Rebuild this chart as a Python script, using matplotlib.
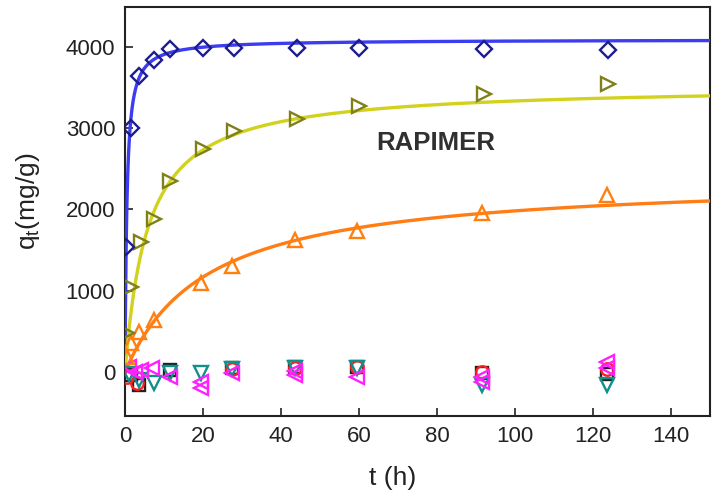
import numpy as np
import matplotlib.pyplot as plt

plt.rcParams['font.family'] = ['Liberation Sans', 'DejaVu Sans']

# measured points (t in h, q in mg/g)
t_blue = [0.3, 1.5, 3.5, 7.5, 11.5, 20, 28, 44, 60, 92, 124]
q_blue = [1540, 3000, 3640, 3840, 3975, 3985, 3985, 3980, 3980, 3975, 3965]

t_yel = [0.5, 1.5, 4, 7.5, 11.5, 20, 28, 44, 60, 92, 124]
q_yel = [480, 1050, 1600, 1880, 2350, 2745, 2965, 3115, 3275, 3420, 3545]

t_org = [0.5, 1.5, 3.5, 7.5, 19.5, 27.5, 43.5, 59.5, 91.5, 123.5]
q_org = [180, 360, 490, 640, 1100, 1300, 1620, 1730, 1960, 2180]

t_blk = [1.5, 3.5, 11.5, 27.5, 43.5, 59.5, 91.5, 123.5]
q_blk = [-40, -160, 25, 50, 60, 60, -10, -20]

t_red = [0.5, 3.0, 27.5, 43.5, 59.5, 91.5, 123.5]
q_red = [-60, -135, 40, 50, 60, 0, 40]

t_teal = [1.0, 3.5, 7.5, 11.5, 19.5, 27.5, 43.5, 59.5, 91.5, 123.5]
q_teal = [-20, -100, -135, -15, -15, 35, 45, 45, -160, -160]

t_mag1 = [2.5, 7, 11.5, 19.5, 27.5, 43.5, 59.5, 91.5, 123.5]
q_mag1 = [0, 50, -60, -120, -15, -35, -60, -120, 125]
t_mag2 = [1.0, 4.0, 19.5, 43.5, 91.5, 123.5]
q_mag2 = [60, 20, -200, 10, -60, 50]

# pseudo-second-order fit parameters (qe, k)
fits = {'blue': (4090, 5.2e-4), 'yel': (3529, 4.86e-5), 'org': (2400, 1.98e-5)}

fig = plt.figure(figsize=(7.12, 4.9), dpi=100)
ax = fig.add_axes([0.1756, 0.151, 0.8214, 0.8347])

tt = np.linspace(0, 150, 1500)
def pso(t, qe, k):
    return qe**2 * k * t / (1 + qe * k * t)

ax.plot(tt, pso(tt, *fits['blue']), color='#3c3cf0', lw=2.4, zorder=3)
ax.plot(tt, pso(tt, *fits['yel']), color='#d2d21e', lw=2.4, zorder=3)
ax.plot(tt, pso(tt, *fits['org']), color='#ff7d14', lw=2.4, zorder=3)

mk = dict(ms=10, mew=1.7, mfc='none', ls='none', zorder=4)
ax.plot(t_blk, q_blk, 's', mec='#222222', **dict(mk, ms=9))
ax.plot(t_red, q_red, 'o', mec='#ff2020', **dict(mk, ms=9))
ax.plot(t_teal, q_teal, 'v', mec='#10908a', **mk)
ax.plot(t_mag1, q_mag1, '<', mec='#ff20ff', **mk)
ax.plot(t_mag2, q_mag2, '<', mec='#ff20ff', **mk)
ax.plot(t_org, q_org, '^', mec='#ff8010', **mk)
ax.plot(t_yel, q_yel, '>', mec='#80801a', **mk)
ax.plot(t_blue, q_blue, 'D', mec='#1c1c90', **dict(mk, ms=8.5))

ax.text(79.6, 2818, 'RAPIMER', fontsize=18.5, fontweight='bold', color='#303030',
        ha='center', va='center')

ax.set_xlim(0, 150)
ax.set_ylim(-540, 4490)
ax.set_xticks([0, 20, 40, 60, 80, 100, 120, 140])
ax.set_yticks([0, 1000, 2000, 3000, 4000])
ax.tick_params(direction='in', length=6, width=1.2, labelsize=16, pad=7,
               colors='#222222')
for s in ax.spines.values():
    s.set_linewidth(1.5)
    s.set_color('#222222')
ax.set_xlabel('t (h)', fontsize=19, color='#222222', va='center')
ax.set_ylabel(r'q$_\mathregular{t}$(mg/g)', fontsize=19, color='#222222', va='center')
ax.xaxis.set_label_coords(0.458, -0.152)
ax.yaxis.set_label_coords(-0.166, 0.526)

fig.savefig('out.png', dpi=100)
